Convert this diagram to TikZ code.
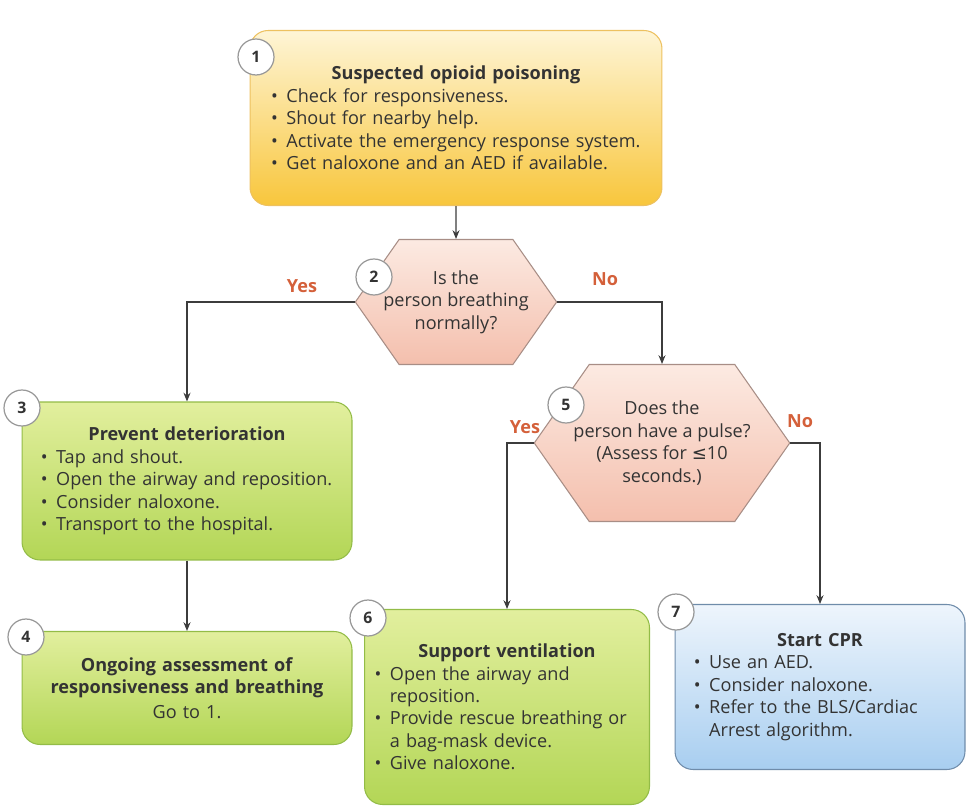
\documentclass[tikz,border=0pt]{standalone}
\usepackage{fontspec}
\setmainfont{Open Sans}
\newfontfamily\symfont{DejaVu Sans}
\usetikzlibrary{arrows.meta,positioning,shapes.symbols}
\definecolor{inktext}{HTML}{333333}
\definecolor{inkline}{HTML}{3C3C3C}
\definecolor{answer}{HTML}{D4603A}
\definecolor{yeltop}{HTML}{FEF5D6}
\definecolor{yelbot}{HTML}{F8C63C}
\definecolor{yeledge}{HTML}{EDC160}
\definecolor{grntop}{HTML}{E2EF9E}
\definecolor{grnbot}{HTML}{B3D656}
\definecolor{grnedge}{HTML}{93BC47}
\definecolor{blutop}{HTML}{EEF5FC}
\definecolor{blubot}{HTML}{A8CEF0}
\definecolor{bluedge}{HTML}{6F8CAA}
\definecolor{hextop}{HTML}{FCEAE2}
\definecolor{hexbot}{HTML}{F4BFAD}
\definecolor{hexedge}{HTML}{A88E86}
\newcommand{\bulletline}[1]{\par\hangindent=0.85em\hangafter=1\noindent\makebox[0.85em][l]{\textbullet}#1}
\newcommand{\boxtitle}[1]{{\centering\bfseries #1\par}}

\begin{document}
\begin{tikzpicture}[x=0.02cm, y=-0.02cm, font=\fontsize{10.3}{12.8}\selectfont, text=inktext, >={Stealth[length=5pt,width=4pt]},
  stepbox/.style={draw, rounded corners=0.36cm, line width=0.6pt, align=left, inner sep=0pt},
  yelbox/.style={stepbox, draw=yeledge, top color=yeltop, bottom color=yelbot},
  grnbox/.style={stepbox, draw=grnedge, top color=grntop, bottom color=grnbot},
  blubox/.style={stepbox, draw=bluedge, top color=blutop, bottom color=blubot},
  ask/.style={signal, signal to=west and east, signal pointer angle=110, draw=hexedge, line width=0.6pt,
    top color=hextop, bottom color=hexbot, align=center, inner ysep=0pt, inner xsep=-9pt},
  num/.style={circle, draw=gray!80, fill=white, line width=0.7pt, minimum size=0.72cm, inner sep=0pt, font=\bfseries\small},
  ans/.style={text=answer, font=\bfseries\fontsize{10.3}{12}\selectfont},
  link/.style={draw=inkline, line width=0.6pt}]
  \useasboundingbox (0,0) rectangle (969,810);

  % boxes
  \node[yelbox, minimum width=8.24cm, minimum height=3.5cm, text width=7.4cm] (b1) at (456,118) {%
    \boxtitle{Suspected opioid poisoning}
    \bulletline{Check for responsiveness.}
    \bulletline{Shout for nearby help.}
    \bulletline{Activate the emergency response system.}
    \bulletline{Get naloxone and an AED if available.}\par};
  \node[ask, minimum width=3.9cm, minimum height=2.5cm] (q2) at (456,302) {Is the\\person breathing\\normally?};
  \node[grnbox, minimum width=6.6cm, minimum height=3.16cm, text width=5.85cm] (b3) at (187,481) {%
    \boxtitle{Prevent deterioration}
    \bulletline{Tap and shout.}
    \bulletline{Open the airway and reposition.}
    \bulletline{Consider naloxone.}
    \bulletline{Transport to the hospital.}\par};
  \node[grnbox, minimum width=6.6cm, minimum height=2.26cm, text width=6.4cm, align=center] (b4) at (187,688) {%
    \textbf{Ongoing assessment of}\\\textbf{responsiveness and breathing}\\[1pt]Go to 1.};
  \node[ask, minimum width=4.64cm, minimum height=3.14cm] (q5) at (662,443) {Does the\\person have a pulse?\\(Assess for {\symfont ≤}10\\seconds.)};
  \node[grnbox, minimum width=5.7cm, minimum height=3.9cm, text width=5.3cm] (b6) at (507,707) {%
    \boxtitle{Support ventilation}
    \bulletline{Open the airway and\newline reposition.}
    \bulletline{Provide rescue breathing or\newline a bag-mask device.}
    \bulletline{Give naloxone.}\par};
  \node[blubox, minimum width=5.8cm, minimum height=3.3cm, text width=5.05cm] (b7) at (820,687) {%
    \boxtitle{Start CPR}
    \bulletline{Use an AED.}
    \bulletline{Consider naloxone.}
    \bulletline{Refer to the BLS/Cardiac\newline Arrest algorithm.}\par};

  % connectors
  \draw[link, ->] (b1) -- (q2);
  \draw[link, ->] (q2.west) -| (b3.north);
  \draw[link, ->] (q2.east) -| (q5.north);
  \draw[link, ->] (b3) -- (b4);
  \draw[link, ->] (q5.west) -| (b6.north);
  \draw[link, ->] (q5.east) -| (b7.north);

  % answers
  \node[ans] (yes2) at (302,286) {Yes};
  \node[ans] (no2) at (605,279) {No};
  \node[ans] (yes5) at (525,427) {Yes};
  \node[ans] (no5) at (800,421) {No};

  % step numbers
  \node[num] (n1) at (256,57) {1};
  \node[num] (n2) at (374,277) {2};
  \node[num] (n3) at (22,408) {3};
  \node[num] (n4) at (26,637) {4};
  \node[num] (n5) at (566,405) {5};
  \node[num] (n6) at (368,618) {6};
  \node[num] (n7) at (676,612) {7};
\end{tikzpicture}
\end{document}
